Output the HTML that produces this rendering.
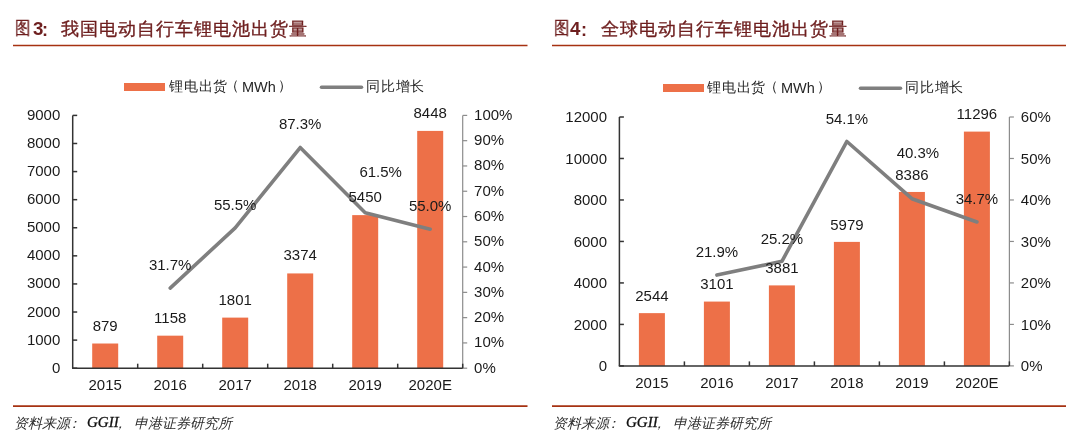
<!DOCTYPE html>
<html><head><meta charset="utf-8">
<style>
html,body{margin:0;padding:0;background:#fff;width:1080px;height:440px;overflow:hidden}
body{position:relative;font-family:"Liberation Sans",sans-serif}
svg{position:absolute;left:0;top:0;will-change:transform}
svg text{font-family:"Liberation Sans",sans-serif;font-size:15.0px;fill:#1A1A1A}
.t{will-change:transform;position:absolute;white-space:nowrap;line-height:1;font-family:"Liberation Sans",sans-serif}
</style></head><body>
<svg width="1080" height="440" viewBox="0 0 1080 440">
<line x1="13" y1="45.5" x2="527.5" y2="45.5" stroke="#A63212" stroke-width="1.6"/>
<line x1="552" y1="45.5" x2="1066" y2="45.5" stroke="#A63212" stroke-width="1.6"/>
<line x1="13" y1="406.2" x2="527.5" y2="406.2" stroke="#A63212" stroke-width="1.8"/>
<line x1="552" y1="406.2" x2="1066" y2="406.2" stroke="#A63212" stroke-width="1.8"/>
<rect x="124" y="83" width="41" height="8" fill="#ED7048"/>
<line x1="321.5" y1="87.3" x2="361.5" y2="87.3" stroke="#7F7F7F" stroke-width="3.6" stroke-linecap="round"/>
<rect x="663" y="84" width="41" height="8" fill="#ED7048"/>
<line x1="860.5" y1="88.3" x2="900.5" y2="88.3" stroke="#7F7F7F" stroke-width="3.6" stroke-linecap="round"/>
<rect x="92.20" y="343.51" width="26" height="24.69" fill="#ED7048"/>
<rect x="157.20" y="335.67" width="26" height="32.53" fill="#ED7048"/>
<rect x="222.20" y="317.61" width="26" height="50.59" fill="#ED7048"/>
<rect x="287.20" y="273.43" width="26" height="94.77" fill="#ED7048"/>
<rect x="352.20" y="215.12" width="26" height="153.08" fill="#ED7048"/>
<rect x="417.20" y="130.91" width="26" height="237.29" fill="#ED7048"/>
<line x1="72.7" y1="115.4" x2="72.7" y2="368.2" stroke="#333333" stroke-width="1.5"/>
<line x1="72.7" y1="368.20" x2="77.2" y2="368.20" stroke="#333333" stroke-width="1.5"/>
<text transform="translate(60.30,372.70) scale(1,1.03)" text-anchor="end">0</text>
<line x1="72.7" y1="340.11" x2="77.2" y2="340.11" stroke="#333333" stroke-width="1.5"/>
<text transform="translate(60.30,344.61) scale(1,1.03)" text-anchor="end">1000</text>
<line x1="72.7" y1="312.02" x2="77.2" y2="312.02" stroke="#333333" stroke-width="1.5"/>
<text transform="translate(60.30,316.52) scale(1,1.03)" text-anchor="end">2000</text>
<line x1="72.7" y1="283.93" x2="77.2" y2="283.93" stroke="#333333" stroke-width="1.5"/>
<text transform="translate(60.30,288.43) scale(1,1.03)" text-anchor="end">3000</text>
<line x1="72.7" y1="255.84" x2="77.2" y2="255.84" stroke="#333333" stroke-width="1.5"/>
<text transform="translate(60.30,260.34) scale(1,1.03)" text-anchor="end">4000</text>
<line x1="72.7" y1="227.76" x2="77.2" y2="227.76" stroke="#333333" stroke-width="1.5"/>
<text transform="translate(60.30,232.26) scale(1,1.03)" text-anchor="end">5000</text>
<line x1="72.7" y1="199.67" x2="77.2" y2="199.67" stroke="#333333" stroke-width="1.5"/>
<text transform="translate(60.30,204.17) scale(1,1.03)" text-anchor="end">6000</text>
<line x1="72.7" y1="171.58" x2="77.2" y2="171.58" stroke="#333333" stroke-width="1.5"/>
<text transform="translate(60.30,176.08) scale(1,1.03)" text-anchor="end">7000</text>
<line x1="72.7" y1="143.49" x2="77.2" y2="143.49" stroke="#333333" stroke-width="1.5"/>
<text transform="translate(60.30,147.99) scale(1,1.03)" text-anchor="end">8000</text>
<line x1="72.7" y1="115.40" x2="77.2" y2="115.40" stroke="#333333" stroke-width="1.5"/>
<text transform="translate(60.30,119.90) scale(1,1.03)" text-anchor="end">9000</text>
<line x1="462.7" y1="115.4" x2="462.7" y2="368.2" stroke="#8C8C8C" stroke-width="1.2"/>
<line x1="462.7" y1="368.20" x2="467.2" y2="368.20" stroke="#8C8C8C" stroke-width="1.2"/>
<text transform="translate(474.10,372.70) scale(1,1.03)">0%</text>
<line x1="462.7" y1="342.92" x2="467.2" y2="342.92" stroke="#8C8C8C" stroke-width="1.2"/>
<text transform="translate(474.10,347.42) scale(1,1.03)">10%</text>
<line x1="462.7" y1="317.64" x2="467.2" y2="317.64" stroke="#8C8C8C" stroke-width="1.2"/>
<text transform="translate(474.10,322.14) scale(1,1.03)">20%</text>
<line x1="462.7" y1="292.36" x2="467.2" y2="292.36" stroke="#8C8C8C" stroke-width="1.2"/>
<text transform="translate(474.10,296.86) scale(1,1.03)">30%</text>
<line x1="462.7" y1="267.08" x2="467.2" y2="267.08" stroke="#8C8C8C" stroke-width="1.2"/>
<text transform="translate(474.10,271.58) scale(1,1.03)">40%</text>
<line x1="462.7" y1="241.80" x2="467.2" y2="241.80" stroke="#8C8C8C" stroke-width="1.2"/>
<text transform="translate(474.10,246.30) scale(1,1.03)">50%</text>
<line x1="462.7" y1="216.52" x2="467.2" y2="216.52" stroke="#8C8C8C" stroke-width="1.2"/>
<text transform="translate(474.10,221.02) scale(1,1.03)">60%</text>
<line x1="462.7" y1="191.24" x2="467.2" y2="191.24" stroke="#8C8C8C" stroke-width="1.2"/>
<text transform="translate(474.10,195.74) scale(1,1.03)">70%</text>
<line x1="462.7" y1="165.96" x2="467.2" y2="165.96" stroke="#8C8C8C" stroke-width="1.2"/>
<text transform="translate(474.10,170.46) scale(1,1.03)">80%</text>
<line x1="462.7" y1="140.68" x2="467.2" y2="140.68" stroke="#8C8C8C" stroke-width="1.2"/>
<text transform="translate(474.10,145.18) scale(1,1.03)">90%</text>
<line x1="462.7" y1="115.40" x2="467.2" y2="115.40" stroke="#8C8C8C" stroke-width="1.2"/>
<text transform="translate(474.10,119.90) scale(1,1.03)">100%</text>
<line x1="72.05" y1="368.2" x2="462.7" y2="368.2" stroke="#333333" stroke-width="1.5"/>
<line x1="137.70" y1="363.7" x2="137.70" y2="368.2" stroke="#333333" stroke-width="1.5"/>
<line x1="202.70" y1="363.7" x2="202.70" y2="368.2" stroke="#333333" stroke-width="1.5"/>
<line x1="267.70" y1="363.7" x2="267.70" y2="368.2" stroke="#333333" stroke-width="1.5"/>
<line x1="332.70" y1="363.7" x2="332.70" y2="368.2" stroke="#333333" stroke-width="1.5"/>
<line x1="397.70" y1="363.7" x2="397.70" y2="368.2" stroke="#333333" stroke-width="1.5"/>
<line x1="462.70" y1="363.7" x2="462.70" y2="368.2" stroke="#333333" stroke-width="1.5"/>
<text transform="translate(105.20,389.80) scale(1,1.03)" text-anchor="middle">2015</text>
<text transform="translate(170.20,389.80) scale(1,1.03)" text-anchor="middle">2016</text>
<text transform="translate(235.20,389.80) scale(1,1.03)" text-anchor="middle">2017</text>
<text transform="translate(300.20,389.80) scale(1,1.03)" text-anchor="middle">2018</text>
<text transform="translate(365.20,389.80) scale(1,1.03)" text-anchor="middle">2019</text>
<text transform="translate(430.20,389.80) scale(1,1.03)" text-anchor="middle">2020E</text>
<polyline points="170.20,288.06 235.20,227.90 300.20,147.51 365.20,212.73 430.20,229.16" fill="none" stroke="#7F7F7F" stroke-width="3.6" stroke-linejoin="round" stroke-linecap="round"/>
<text transform="translate(105.20,330.51) scale(1,1.03)" text-anchor="middle">879</text>
<text transform="translate(170.20,322.67) scale(1,1.03)" text-anchor="middle">1158</text>
<text transform="translate(235.20,304.61) scale(1,1.03)" text-anchor="middle">1801</text>
<text transform="translate(300.20,260.43) scale(1,1.03)" text-anchor="middle">3374</text>
<text transform="translate(365.20,202.12) scale(1,1.03)" text-anchor="middle">5450</text>
<text transform="translate(430.20,117.91) scale(1,1.03)" text-anchor="middle">8448</text>
<text transform="translate(170.20,269.76) scale(1,1.03)" text-anchor="middle">31.7%</text>
<text transform="translate(235.20,209.60) scale(1,1.03)" text-anchor="middle">55.5%</text>
<text transform="translate(300.20,129.21) scale(1,1.03)" text-anchor="middle">87.3%</text>
<text transform="translate(380.70,176.83) scale(1,1.03)" text-anchor="middle">61.5%</text>
<text transform="translate(430.20,210.86) scale(1,1.03)" text-anchor="middle">55.0%</text>
<rect x="638.90" y="313.13" width="26" height="52.77" fill="#ED7048"/>
<rect x="703.90" y="301.58" width="26" height="64.32" fill="#ED7048"/>
<rect x="768.90" y="285.40" width="26" height="80.50" fill="#ED7048"/>
<rect x="833.90" y="241.89" width="26" height="124.01" fill="#ED7048"/>
<rect x="898.90" y="191.96" width="26" height="173.94" fill="#ED7048"/>
<rect x="963.90" y="131.60" width="26" height="234.30" fill="#ED7048"/>
<line x1="619.4" y1="117.0" x2="619.4" y2="365.9" stroke="#333333" stroke-width="1.5"/>
<line x1="619.4" y1="365.90" x2="623.9" y2="365.90" stroke="#333333" stroke-width="1.5"/>
<text transform="translate(607.00,371.10) scale(1,1.03)" text-anchor="end">0</text>
<line x1="619.4" y1="324.42" x2="623.9" y2="324.42" stroke="#333333" stroke-width="1.5"/>
<text transform="translate(607.00,329.62) scale(1,1.03)" text-anchor="end">2000</text>
<line x1="619.4" y1="282.93" x2="623.9" y2="282.93" stroke="#333333" stroke-width="1.5"/>
<text transform="translate(607.00,288.13) scale(1,1.03)" text-anchor="end">4000</text>
<line x1="619.4" y1="241.45" x2="623.9" y2="241.45" stroke="#333333" stroke-width="1.5"/>
<text transform="translate(607.00,246.65) scale(1,1.03)" text-anchor="end">6000</text>
<line x1="619.4" y1="199.97" x2="623.9" y2="199.97" stroke="#333333" stroke-width="1.5"/>
<text transform="translate(607.00,205.17) scale(1,1.03)" text-anchor="end">8000</text>
<line x1="619.4" y1="158.48" x2="623.9" y2="158.48" stroke="#333333" stroke-width="1.5"/>
<text transform="translate(607.00,163.68) scale(1,1.03)" text-anchor="end">10000</text>
<line x1="619.4" y1="117.00" x2="623.9" y2="117.00" stroke="#333333" stroke-width="1.5"/>
<text transform="translate(607.00,122.20) scale(1,1.03)" text-anchor="end">12000</text>
<line x1="1009.4" y1="117.0" x2="1009.4" y2="365.9" stroke="#8C8C8C" stroke-width="1.2"/>
<line x1="1009.4" y1="365.90" x2="1013.9" y2="365.90" stroke="#8C8C8C" stroke-width="1.2"/>
<text transform="translate(1020.80,371.10) scale(1,1.03)">0%</text>
<line x1="1009.4" y1="324.42" x2="1013.9" y2="324.42" stroke="#8C8C8C" stroke-width="1.2"/>
<text transform="translate(1020.80,329.62) scale(1,1.03)">10%</text>
<line x1="1009.4" y1="282.93" x2="1013.9" y2="282.93" stroke="#8C8C8C" stroke-width="1.2"/>
<text transform="translate(1020.80,288.13) scale(1,1.03)">20%</text>
<line x1="1009.4" y1="241.45" x2="1013.9" y2="241.45" stroke="#8C8C8C" stroke-width="1.2"/>
<text transform="translate(1020.80,246.65) scale(1,1.03)">30%</text>
<line x1="1009.4" y1="199.97" x2="1013.9" y2="199.97" stroke="#8C8C8C" stroke-width="1.2"/>
<text transform="translate(1020.80,205.17) scale(1,1.03)">40%</text>
<line x1="1009.4" y1="158.48" x2="1013.9" y2="158.48" stroke="#8C8C8C" stroke-width="1.2"/>
<text transform="translate(1020.80,163.68) scale(1,1.03)">50%</text>
<line x1="1009.4" y1="117.00" x2="1013.9" y2="117.00" stroke="#8C8C8C" stroke-width="1.2"/>
<text transform="translate(1020.80,122.20) scale(1,1.03)">60%</text>
<line x1="618.75" y1="365.9" x2="1009.4" y2="365.9" stroke="#333333" stroke-width="1.5"/>
<line x1="684.40" y1="361.4" x2="684.40" y2="365.9" stroke="#333333" stroke-width="1.5"/>
<line x1="749.40" y1="361.4" x2="749.40" y2="365.9" stroke="#333333" stroke-width="1.5"/>
<line x1="814.40" y1="361.4" x2="814.40" y2="365.9" stroke="#333333" stroke-width="1.5"/>
<line x1="879.40" y1="361.4" x2="879.40" y2="365.9" stroke="#333333" stroke-width="1.5"/>
<line x1="944.40" y1="361.4" x2="944.40" y2="365.9" stroke="#333333" stroke-width="1.5"/>
<line x1="1009.40" y1="361.4" x2="1009.40" y2="365.9" stroke="#333333" stroke-width="1.5"/>
<text transform="translate(651.90,388.20) scale(1,1.03)" text-anchor="middle">2015</text>
<text transform="translate(716.90,388.20) scale(1,1.03)" text-anchor="middle">2016</text>
<text transform="translate(781.90,388.20) scale(1,1.03)" text-anchor="middle">2017</text>
<text transform="translate(846.90,388.20) scale(1,1.03)" text-anchor="middle">2018</text>
<text transform="translate(911.90,388.20) scale(1,1.03)" text-anchor="middle">2019</text>
<text transform="translate(976.90,388.20) scale(1,1.03)" text-anchor="middle">2020E</text>
<polyline points="716.90,275.05 781.90,261.36 846.90,141.48 911.90,198.72 976.90,221.95" fill="none" stroke="#7F7F7F" stroke-width="3.6" stroke-linejoin="round" stroke-linecap="round"/>
<text transform="translate(651.90,300.83) scale(1,1.03)" text-anchor="middle">2544</text>
<text transform="translate(716.90,289.28) scale(1,1.03)" text-anchor="middle">3101</text>
<text transform="translate(781.90,273.10) scale(1,1.03)" text-anchor="middle">3881</text>
<text transform="translate(846.90,229.59) scale(1,1.03)" text-anchor="middle">5979</text>
<text transform="translate(911.90,179.66) scale(1,1.03)" text-anchor="middle">8386</text>
<text transform="translate(976.90,119.30) scale(1,1.03)" text-anchor="middle">11296</text>
<text transform="translate(716.90,257.45) scale(1,1.03)" text-anchor="middle">21.9%</text>
<text transform="translate(781.90,243.76) scale(1,1.03)" text-anchor="middle">25.2%</text>
<text transform="translate(846.90,123.88) scale(1,1.03)" text-anchor="middle">54.1%</text>
<text transform="translate(917.90,157.52) scale(1,1.03)" text-anchor="middle">40.3%</text>
<text transform="translate(976.90,204.35) scale(1,1.03)" text-anchor="middle">34.7%</text>
</svg>
<div class="t" id="t1a" style="left:14.50px;top:19.40px;font-size:18px;letter-spacing:1px;color:#6E1F1F;font-weight:normal;-webkit-text-stroke:0.35px #6E1F1F;transform:scaleX(0.85);transform-origin:0 0">图</div>
<div class="t" id="t1b" style="left:32.72px;top:20.15px;font-size:18.7px;color:#6E1F1F;font-weight:bold">3</div>
<div class="t" id="t1c" style="left:42.20px;top:21.25px;font-size:18px;color:#6E1F1F;font-weight:bold">:</div>
<div class="t" id="t1d" style="left:60.65px;top:19.65px;font-size:18px;letter-spacing:1px;color:#6E1F1F;font-weight:normal;-webkit-text-stroke:0.35px #6E1F1F">我国电动自行车锂电池出货量</div>
<div class="t" id="t2a" style="left:553.50px;top:19.40px;font-size:18px;letter-spacing:1px;color:#6E1F1F;font-weight:normal;-webkit-text-stroke:0.35px #6E1F1F;transform:scaleX(0.85);transform-origin:0 0">图</div>
<div class="t" id="t2b" style="left:570.10px;top:20.15px;font-size:18.7px;color:#6E1F1F;font-weight:bold">4</div>
<div class="t" id="t2c" style="left:581.00px;top:21.25px;font-size:18px;color:#6E1F1F;font-weight:bold">:</div>
<div class="t" id="t2d" style="left:601.15px;top:19.65px;font-size:18px;letter-spacing:1px;color:#6E1F1F;font-weight:normal;-webkit-text-stroke:0.35px #6E1F1F">全球电动自行车锂电池出货量</div>
<div class="t" id="l1a" style="left:168.50px;top:79.65px;font-size:13.5px;letter-spacing:0.8px;color:#262626">锂电出货</div>
<div class="t" id="l1b" style="left:225.15px;top:78.65px;font-size:13.5px;letter-spacing:0.8px;color:#262626">（</div>
<div class="t" id="l1c" style="left:241.55px;top:80.00px;font-size:14.5px;color:#262626">MWh</div>
<div class="t" id="l1d" style="left:277.80px;top:78.65px;font-size:13.5px;letter-spacing:0.8px;color:#262626">）</div>
<div class="t" id="l1e" style="left:366.00px;top:80.15px;font-size:13.5px;letter-spacing:0.8px;color:#262626">同比增长</div>
<div class="t" id="l2a" style="left:707.40px;top:80.65px;font-size:13.5px;letter-spacing:0.8px;color:#262626">锂电出货</div>
<div class="t" id="l2b" style="left:764.45px;top:79.65px;font-size:13.5px;letter-spacing:0.8px;color:#262626">（</div>
<div class="t" id="l2c" style="left:780.75px;top:80.65px;font-size:14.5px;color:#262626">MWh</div>
<div class="t" id="l2d" style="left:817.10px;top:79.65px;font-size:13.5px;letter-spacing:0.8px;color:#262626">）</div>
<div class="t" id="l2e" style="left:904.50px;top:81.15px;font-size:13.5px;letter-spacing:0.8px;color:#262626">同比增长</div>
<div class="t" id="s1a" style="left:13.70px;top:416.20px;font-size:14px;color:#2e2e2e;font-style:italic">资料来源</div>
<div class="t" id="s1b" style="left:67.20px;top:416.00px;font-size:14px;color:#2e2e2e;font-style:italic">：</div>
<div class="t" id="s1c" style="left:87.25px;top:415.05px;font-size:15px;color:#111;font-style:italic;-webkit-text-stroke:0.3px #111;font-family:'Liberation Serif',serif">GGII</div>
<div class="t" id="s1d" style="left:113.38px;top:415.70px;font-size:14px;color:#2e2e2e;font-style:italic">，</div>
<div class="t" id="s1e" style="left:134.30px;top:416.10px;font-size:14px;color:#2e2e2e;font-style:italic">申港证券研究所</div>
<div class="t" id="s2a" style="left:552.60px;top:416.20px;font-size:14px;color:#2e2e2e;font-style:italic">资料来源</div>
<div class="t" id="s2b" style="left:606.20px;top:416.00px;font-size:14px;color:#2e2e2e;font-style:italic">：</div>
<div class="t" id="s2c" style="left:626.25px;top:415.05px;font-size:15px;color:#111;font-style:italic;-webkit-text-stroke:0.3px #111;font-family:'Liberation Serif',serif">GGII</div>
<div class="t" id="s2d" style="left:652.38px;top:415.70px;font-size:14px;color:#2e2e2e;font-style:italic">，</div>
<div class="t" id="s2e" style="left:673.30px;top:416.10px;font-size:14px;color:#2e2e2e;font-style:italic">申港证券研究所</div>
</body></html>
